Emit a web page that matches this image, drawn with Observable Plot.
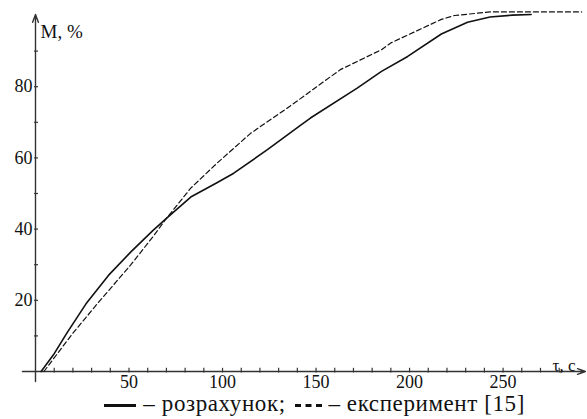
<!DOCTYPE html>
<html>
<head>
<meta charset="utf-8">
<script src="https://cdn.jsdelivr.net/npm/d3@7"></script>
<script src="https://cdn.jsdelivr.net/npm/@observablehq/plot@0.6"></script>
<style>
  html, body { margin: 0; padding: 0; background: #fff; }
  body { width: 587px; height: 419px; position: relative; overflow: hidden; font-family: "Liberation Serif", Tinos, "DejaVu Serif", serif; }
  #legend { position: absolute; left: 104px; top: 391px; font-size: 23px; line-height: 25px; color: #111; white-space: nowrap; letter-spacing: 0.6px; }
  #legend .solid { display: inline-block; width: 32px; height: 0; border-top: 3px solid #111; vertical-align: middle; margin-right: 1px; }
  #legend .dashed { display: inline-block; width: 27px; height: 0; border-top: 3px dashed #111; vertical-align: middle; margin-left: 3px; }
</style>
</head>
<body>
<div id="chart"></div>
<div id="legend"><span class="solid"></span> – розрахунок; <span class="dashed"></span> – експеримент [15]</div>
<script>
// Calculated curve (розрахунок)
const calcT = [3, 10, 17, 27, 39, 51, 63, 70, 83, 97, 106, 124, 142, 147, 172, 185, 199, 217, 231, 243, 255, 265];
const calcM = [0, 5, 11, 19, 27, 33.6, 39.7, 43, 49, 53, 55.7, 62.3, 69.3, 71.2, 79.6, 84.3, 88.5, 94.8, 98.1, 99.6, 100.1, 100.3];
// Experimental curve (експеримент [15])
const expT = [4.5, 19.6, 33, 51, 63, 70, 83, 97, 115, 136, 163, 185, 190, 217, 224, 243, 292];
const expM = [0, 10.5, 19, 30, 38, 43, 51.5, 58.5, 66.9, 74.5, 84.8, 90.4, 92.3, 98.9, 100, 101, 101];

const xTickLabels = [50, 100, 150, 200, 250];
const yTickLabels = [20, 40, 60, 80];
const xMinorTicks = [10, 20, 30, 40, 50, 60, 70, 80, 90, 100, 110, 120, 130, 140, 150, 160, 170, 180, 190, 200, 210, 220, 230, 240, 250, 260, 270, 280];
const yMinorTicks = [10, 20, 30, 40, 50, 60, 70, 80, 90];
const yLabel = "M, %";
const xLabel = "τ, с";

const calc = calcT.map((t, i) => ({t, m: calcM[i]}));
const exp = expT.map((t, i) => ({t, m: expM[i]}));
const ink = "#111";
const serif = "'Liberation Serif', Tinos, 'DejaVu Serif', serif";

const chart = Plot.plot({
  width: 587,
  height: 392,
  marginLeft: 35,
  marginRight: 4,
  marginTop: 15,
  marginBottom: 21,
  x: {domain: [0, 293], axis: null},
  y: {domain: [0, 100], axis: null},
  style: {fontFamily: serif, background: "#fff", color: ink},
  marks: [
    Plot.arrow([{x1: -7, y1: 0, x2: 294, y2: 0}], {x1: "x1", y1: "y1", x2: "x2", y2: "y2", stroke: "#333", strokeWidth: 1.4, headLength: 9, headAngle: 40}),
    Plot.arrow([{x1: 0, y1: -2.8, x2: 0, y2: 100.3}], {x1: "x1", y1: "y1", x2: "x2", y2: "y2", stroke: "#333", strokeWidth: 1.4, headLength: 9, headAngle: 40}),
    Plot.ruleX(xMinorTicks, {x: d => d, y1: -0.4, y2: 0.9, stroke: "#333", strokeWidth: 1.2}),
    Plot.ruleY(yMinorTicks, {y: d => d, x1: -0.5, x2: 1.6, stroke: "#333", strokeWidth: 1.2}),
    Plot.text(xTickLabels, {x: d => d, y: 0, text: d => String(d), dy: 11, fontSize: 18, fill: ink, fontFamily: serif}),
    Plot.text(yTickLabels, {x: 0, y: d => d, text: d => String(d), textAnchor: "end", dx: -3, fontSize: 18, fill: ink, fontFamily: serif}),
    Plot.text([yLabel], {x: 0, y: 100, text: d => d, textAnchor: "start", dx: 5, dy: 16, fontSize: 19, fill: ink, fontFamily: serif}),
    Plot.text([xLabel], {x: 293, y: 0, text: d => d, textAnchor: "end", dx: -8, dy: -6, fontSize: 17, fill: ink, fontFamily: serif}),
    Plot.line(exp, {x: "t", y: "m", stroke: ink, strokeWidth: 1.2, strokeDasharray: "5,3"}),
    Plot.line(calc, {x: "t", y: "m", stroke: ink, strokeWidth: 1.6})
  ]
});
document.getElementById("chart").appendChild(chart);
</script>
</body>
</html>
